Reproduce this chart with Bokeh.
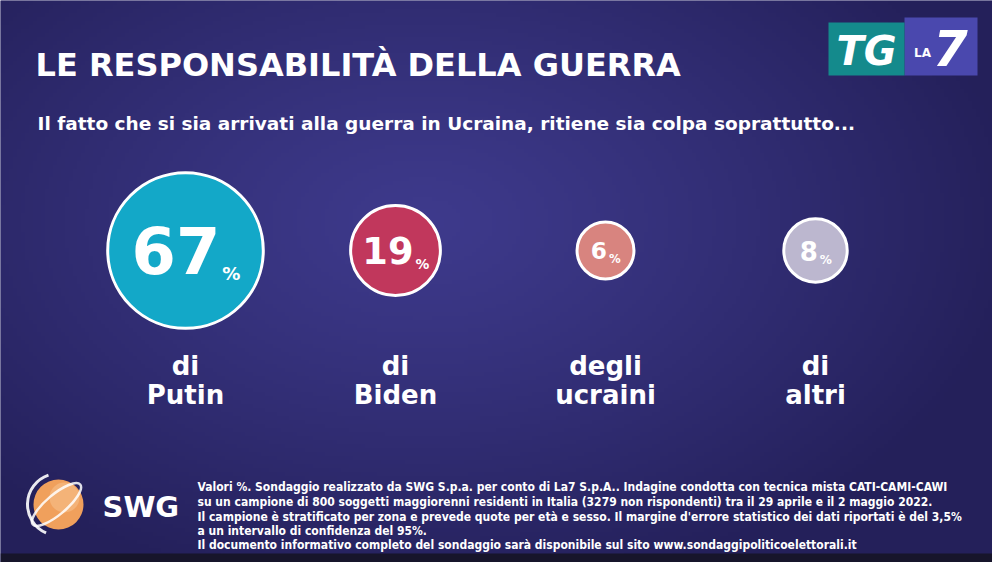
import numpy as np
from bokeh.plotting import figure
from bokeh.models import Range1d, ColumnDataSource
from bokeh.core.properties import value
from bokeh.embed import file_html
from bokeh.resources import INLINE

# ---------------- data ----------------
title = "LE RESPONSABILITÀ DELLA GUERRA"
subtitle = "Il fatto che si sia arrivati alla guerra in Ucraina, ritiene sia colpa soprattutto..."
label_top = ["di", "di", "degli", "di"]
label_bottom = ["Putin", "Biden", "ucraini", "altri"]
values = [67, 19, 6, 8]
fill_colors = ["#13a8c8", "#c1375c", "#d8847f", "#bcb7cf"]
footer_lines = [
    "Valori %. Sondaggio realizzato da SWG S.p.a. per conto di La7 S.p.A.. Indagine condotta con tecnica mista CATI-CAMI-CAWI",
    "su un campione di 800 soggetti maggiorenni residenti in Italia (3279 non rispondenti) tra il 29 aprile e il 2 maggio 2022.",
    "Il campione è stratificato per zona e prevede quote per età e sesso. Il margine d'errore statistico dei dati riportati è del 3,5%",
    "a un intervallo di confidenza del 95%.",
    "Il documento informativo completo del sondaggio sarà disponibile sul sito www.sondaggipoliticoelettorali.it",
]

# ---------------- figure ----------------
W, H = 992, 562
p = figure(width=W, height=H, x_range=Range1d(8, 1000), y_range=Range1d(570, 8),
           output_backend="svg", toolbar_location=None, min_border=0)
p.axis.visible = False
p.grid.visible = False
p.outline_line_color = None
p.background_fill_color = "#2b2768"
p.border_fill_color = "#2b2768"

# background glow (radial gradient)
step = 4
ny, nx = H // step + 1, W // step + 1
yy, xx = np.mgrid[0:ny, 0:nx]
X = 8 + (xx + 0.5) * step
Y = 8 + (yy + 0.5) * step
d = np.sqrt(((X - 430) / 600.0) ** 2 + ((Y - 230) / 380.0) ** 2)
t = np.clip(d, 0, 1) ** 1.2
c0 = np.array([62, 58, 140])
c1 = np.array([36, 32, 90])
rgb = c0[None, None, :] * (1 - t[..., None]) + c1[None, None, :] * t[..., None]
img = np.empty((ny, nx), dtype=np.uint32)
view = img.view(dtype=np.uint8).reshape((ny, nx, 4))
view[..., 0] = rgb[..., 0].astype(np.uint8)
view[..., 1] = rgb[..., 1].astype(np.uint8)
view[..., 2] = rgb[..., 2].astype(np.uint8)
view[..., 3] = 255
p.image_rgba(image=[img], x=8, y=8, dw=nx * step, dh=ny * step)

# dark bezel strip at the bottom
p.quad(left=[8], right=[1000], top=[561], bottom=[570], fill_color="#17152b", line_color=None)

# ---------------- title / subtitle ----------------
p.text(x=[43], y=[72], text=[title], text_color="white", text_font=value("DejaVu Sans"),
       text_font_style="bold", text_font_size="32px", text_baseline="middle", text_align="left")
p.text(x=[45], y=[131], text=[subtitle], text_color="white", text_font=value("DejaVu Sans"),
       text_font_style="bold", text_font_size="18.5px", text_baseline="middle", text_align="left")

# ---------------- bubbles ----------------
n = len(values)
cx = [193 + i * 210 for i in range(n)]
cy = [258] * n
radius = [8.6 * np.sqrt(v) + 7.4 for v in values]
src = ColumnDataSource(dict(x=cx, y=cy, r=radius, c=fill_colors))
p.circle(x="x", y="y", radius="r", fill_color="c", line_color="white", line_width=3, source=src)

num_x, num_y, num_t, num_fs = [], [], [], []
pct_x, pct_y, pct_fs = [], [], []
for x0, y0, r, v in zip(cx, cy, radius, values):
    fs = 0.82 * r
    pfs = 8 + 0.13 * r
    s = str(v)
    nw = len(s) * 0.696 * fs
    pw = 0.95 * pfs
    total = nw + 2 + pw
    left = x0 - total / 2
    num_x.append(left)
    num_y.append(y0)
    num_t.append(s)
    num_fs.append(f"{fs:.1f}px")
    pct_x.append(left + nw + 2)
    pct_y.append(y0 + 0.36 * fs)
    pct_fs.append(f"{pfs:.1f}px")

p.text(x=num_x, y=num_y, text=num_t, text_font_size=num_fs, text_color="white",
       text_font=value("DejaVu Sans"), text_font_style="bold",
       text_align="left", text_baseline="middle")
p.text(x=pct_x, y=pct_y, text=["%"] * n, text_font_size=pct_fs, text_color="white",
       text_font=value("DejaVu Sans"), text_font_style="bold",
       text_align="left", text_baseline="alphabetic")

# category labels
p.text(x=cx, y=[373] * n, text=label_top, text_color="white", text_font=value("DejaVu Sans"),
       text_font_style="bold", text_font_size="26px", text_align="center", text_baseline="middle")
p.text(x=cx, y=[402] * n, text=label_bottom, text_color="white", text_font=value("DejaVu Sans"),
       text_font_style="bold", text_font_size="26px", text_align="center", text_baseline="middle")

# ---------------- footer ----------------
p.text(x=[205] * len(footer_lines), y=[494, 509, 524, 538, 552], text=footer_lines,
       text_color="white", text_font=value("DejaVu Sans Condensed"), text_font_style="bold",
       text_font_size="12px", text_align="left", text_baseline="middle")

# SWG logo
p.circle(x=[66], y=[512], radius=25, fill_color="#f0a05c", line_color=None)
p.circle(x=[72], y=[505], radius=15, fill_color="#f7c08a", line_color=None, fill_alpha=0.6)
p.ellipse(x=[64], y=[512], width=62, height=20, angle=0.7, fill_color=None,
          line_color="white", line_width=2.5, line_alpha=0.85)
p.arc(x=[66], y=[512], radius=31, start_angle=1.9, end_angle=4.3,
      line_color="white", line_width=3, line_alpha=0.9)
p.text(x=[110], y=[514], text=["SWG"], text_color="white", text_font=value("DejaVu Sans"),
       text_font_style="bold", text_font_size="29px", text_align="left", text_baseline="middle")

# TG LA7 logo
p.quad(left=[912], right=[985], top=[25], bottom=[83], fill_color="#4a48ae", line_color=None)
p.quad(left=[836], right=[912], top=[30], bottom=[83], fill_color="#148a8c", line_color=None)
p.text(x=[874], y=[58], text=["TG"], text_color="white", text_font=value("DejaVu Sans"),
       text_font_style="bold italic", text_font_size="40px", text_align="center", text_baseline="middle")
p.text(x=[930], y=[60], text=["LA"], text_color="white", text_font=value("DejaVu Sans"),
       text_font_style="bold", text_font_size="12px", text_align="center", text_baseline="middle")
p.text(x=[958], y=[55], text=["7"], text_color="white", text_font=value("DejaVu Sans"),
       text_font_style="bold italic", text_font_size="50px", text_align="center", text_baseline="middle")

open("out.html", "w").write(file_html(p, INLINE))
